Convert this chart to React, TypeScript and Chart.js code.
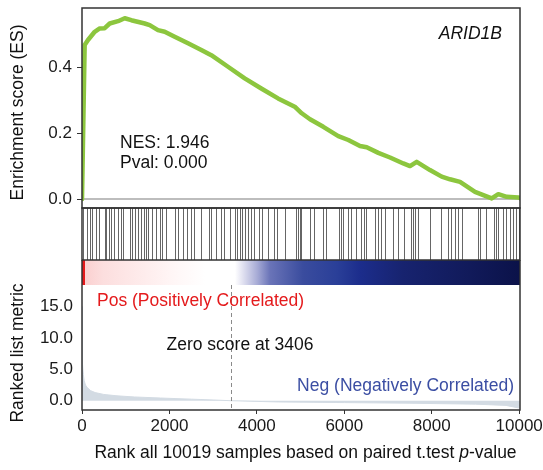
import { useEffect, useRef } from 'react';
import { Chart, registerables } from 'chart.js';

Chart.register(...registerables);

const FONT = "'Liberation Sans', Arial, sans-serif";

const TOTAL_RANKS = 10019;
const xTicks = [0, 2000, 4000, 6000, 8000, 10000];
const esTicks = [0, 0.2, 0.4];
const metricTicks = [0, 5, 10, 15];

const esRanks = [0, 61, 137, 290, 405, 519, 634, 824, 977, 1128, 1434, 1549, 1738, 1892, 2120, 2425, 2729, 2958, 3340, 3722, 4101, 4484, 4866, 5026, 5216, 5520, 5863, 6092, 6359, 6513, 6778, 7046, 7350, 7503, 7656, 7960, 8228, 8418, 8647, 8990, 9180, 9372, 9523, 9715, 9980, 10019];
const esValues = [0, 0.467, 0.482, 0.507, 0.517, 0.518, 0.532, 0.539, 0.548, 0.542, 0.532, 0.527, 0.512, 0.507, 0.492, 0.472, 0.452, 0.436, 0.401, 0.366, 0.335, 0.305, 0.28, 0.26, 0.242, 0.219, 0.191, 0.179, 0.161, 0.157, 0.14, 0.126, 0.108, 0.1, 0.113, 0.088, 0.068, 0.06, 0.052, 0.022, 0.012, 0.002, 0.015, 0.007, 0.005, 0.003];

const hitRanks = [
  23, 121, 176, 229, 327, 389, 519, 556, 617, 670, 732, 823, 885, 945, 1091, 1144, 1219, 1281, 1342, 1411, 1471, 1509, 1601, 1699, 1791, 1836, 1928, 2120, 2195, 2310, 2408,
  2486, 2561, 2729, 2896, 2942, 3070, 3185, 3247, 3378, 3492, 3552, 3607, 3666, 3721, 3797, 3858, 3934, 4041, 4117, 4254, 4391, 4467, 4636, 4901, 4940, 4979,
  5001, 5207, 5306, 5512, 5587, 5871, 5930, 5969, 6083, 6145, 6273, 6388, 6442, 6502, 6694, 6769, 6831, 6936, 7113, 7227, 7364,
  7517, 7570, 7623, 7684, 7952, 8203, 8370, 8432, 8523, 8599, 8690, 9056, 9095, 9246, 9422, 9475, 9514, 9628, 9704, 9782, 9857, 9933, 9987,
];

const metricRanks = [0, 5, 15, 30, 50, 80, 120, 200, 300, 500, 800, 1200, 1800, 2500, 3000, 3406, 4500, 6000, 7500, 9000, 9700, 10019];
const metricValues = [15, 10, 6, 4.2, 3.2, 2.5, 2.1, 1.6, 1.3, 1.0, 0.78, 0.6, 0.43, 0.25, 0.12, 0, -0.2, -0.3, -0.4, -0.55, -0.75, -1.2];

const gradientRanks = [0, 62, 68, 480, 2013, 2813, 3500, 3683, 4003, 4300, 5055, 5833, 6359, 7343, 8876, 10019];
const gradientColors = ['#e41a1c', '#e41a1c', '#fbd0d0', '#fcdede', '#fff5f5', '#ffffff', '#ffffff', '#e0e0f0', '#a8acd6', '#6a74b8', '#3a4c9e', '#2a3f98', '#1c2d8c', '#17236f', '#111a5a', '#0b1249'];

const zeroScoreRank = 3406;
const geneName = 'ARID1B';
const nesText = 'NES: 1.946';
const pvalText = 'Pval: 0.000';
const posLabel = 'Pos (Positively Correlated)';
const negLabel = 'Neg (Negatively Correlated)';
const zeroLabel = 'Zero score at ' + zeroScoreRank;
const esTitle = 'Enrichment score (ES)';
const metricTitle = 'Ranked list metric';
const xTitleParts = [
  { text: 'Rank all ' + TOTAL_RANKS + ' samples based on paired t.test ', italic: false },
  { text: 'p', italic: true },
  { text: '-value', italic: false },
];

const gseaPlugin = {
  id: 'gsea',
  beforeDatasetsDraw(chart: any) {
    const { ctx } = chart;
    const x = chart.scales.x;
    const yES = chart.scales.yES;
    const yBar = chart.scales.yBar;
    const yGrad = chart.scales.yGrad;
    ctx.save();
    // ES zero line
    const y0 = yES.getPixelForValue(0);
    ctx.strokeStyle = '#bdbdbd';
    ctx.lineWidth = 2;
    ctx.beginPath();
    ctx.moveTo(x.left, y0);
    ctx.lineTo(x.right, y0);
    ctx.stroke();
    // gradient bar
    const gx0 = x.getPixelForValue(0);
    const gx1 = x.getPixelForValue(TOTAL_RANKS);
    const grad = ctx.createLinearGradient(gx0, 0, gx1, 0);
    gradientRanks.forEach((r, i) => grad.addColorStop(Math.min(1, r / TOTAL_RANKS), gradientColors[i]));
    ctx.fillStyle = grad;
    ctx.fillRect(x.left, yGrad.top, x.right - x.left, yGrad.bottom - yGrad.top);
    // barcode
    ctx.strokeStyle = 'rgba(0,0,0,0.6)';
    ctx.lineWidth = 1;
    hitRanks.forEach((r) => {
      const px = Math.round(x.getPixelForValue(r)) + 0.5;
      ctx.beginPath();
      ctx.moveTo(px, yBar.top);
      ctx.lineTo(px, yBar.bottom);
      ctx.stroke();
    });
    ctx.restore();
  },
  afterDatasetsDraw(chart: any) {
    const { ctx } = chart;
    const x = chart.scales.x;
    const yES = chart.scales.yES;
    const yBar = chart.scales.yBar;
    const yGrad = chart.scales.yGrad;
    const yM = chart.scales.yMetric;
    ctx.save();
    // dashed zero-score line
    const zx = Math.round(x.getPixelForValue(zeroScoreRank)) + 0.5;
    ctx.strokeStyle = '#8a8a8a';
    ctx.lineWidth = 1;
    ctx.setLineDash([4, 3]);
    ctx.beginPath();
    ctx.moveTo(zx, yM.top);
    ctx.lineTo(zx, yM.bottom);
    ctx.stroke();
    ctx.setLineDash([]);
    // borders
    ctx.strokeStyle = '#333';
    ctx.lineWidth = 1.5;
    const w = x.right - x.left;
    ctx.strokeRect(x.left, yES.top, w, yES.bottom - yES.top);
    ctx.strokeRect(x.left, yBar.top, w, yBar.bottom - yBar.top);
    ctx.beginPath();
    ctx.moveTo(x.left, yGrad.top);
    ctx.lineTo(x.left, yM.bottom);
    ctx.lineTo(x.right, yM.bottom);
    ctx.lineTo(x.right, yGrad.top);
    ctx.stroke();

    // texts
    ctx.textBaseline = 'middle';
    ctx.fillStyle = '#111';
    ctx.font = `italic 17.5px ${FONT}`;
    ctx.textAlign = 'right';
    ctx.fillText(geneName, x.right - 18, yES.top + 26);
    ctx.font = `17.5px ${FONT}`;
    ctx.textAlign = 'left';
    ctx.fillText(nesText, x.left + 38, yES.top + 135);
    ctx.fillText(pvalText, x.left + 38, yES.top + 155);

    ctx.fillStyle = '#e41a1c';
    ctx.fillText(posLabel, x.left + 15, yM.top + 16);
    ctx.fillStyle = '#111';
    ctx.fillText(zeroLabel, x.left + 84.5, yM.top + 60);
    ctx.fillStyle = '#3b4ea3';
    ctx.textAlign = 'right';
    ctx.fillText(negLabel, x.right - 6, yM.top + 101);

    // y titles
    ctx.fillStyle = '#111';
    ctx.textAlign = 'center';
    ctx.save();
    ctx.translate(18.5, (yES.top + yES.bottom) / 2 + 4.5);
    ctx.rotate(-Math.PI / 2);
    ctx.fillText(esTitle, 0, 0);
    ctx.restore();
    ctx.save();
    ctx.translate(18.5, (yM.top + yM.bottom) / 2 + 5.5);
    ctx.rotate(-Math.PI / 2);
    ctx.fillText(metricTitle, 0, 0);
    ctx.restore();

    // x title with italic p
    const fonts = xTitleParts.map((p) => `${p.italic ? 'italic ' : ''}17.5px ${FONT}`);
    let total = 0;
    const widths = xTitleParts.map((p, i) => {
      ctx.font = fonts[i];
      const m = ctx.measureText(p.text).width;
      total += m;
      return m;
    });
    let cx = (x.left + x.right) / 2 + 4.5 - total / 2;
    ctx.textAlign = 'left';
    xTitleParts.forEach((p, i) => {
      ctx.font = fonts[i];
      ctx.fillText(p.text, cx, yM.bottom + 43);
      cx += widths[i];
    });
    ctx.restore();
  },
};

function fitLeft(s: any) {
  s.width = 82;
  s.paddingTop = 0;
  s.paddingBottom = 0;
}

const tickFont = { size: 17, family: FONT };

export default function App() {
  const ref = useRef<HTMLCanvasElement>(null);
  useEffect(() => {
    Chart.defaults.font.family = FONT;
    const chart = new Chart(ref.current as HTMLCanvasElement, {
      type: 'line',
      data: {
        datasets: [
          {
            data: esRanks.map((r, i) => ({ x: r, y: esValues[i] })),
            yAxisID: 'yES',
            borderColor: '#8cc63e',
            borderWidth: 4.5,
            pointRadius: 0,
            tension: 0,
            fill: false,
            borderJoinStyle: 'round',
            borderCapStyle: 'round',
          },
          {
            data: metricRanks.map((r, i) => ({ x: r, y: metricValues[i] })),
            yAxisID: 'yMetric',
            borderColor: '#d3dbe3',
            backgroundColor: '#d3dbe3',
            borderWidth: 1,
            pointRadius: 0,
            tension: 0,
            fill: 'origin',
          },
        ],
      },
      options: {
        responsive: false,
        devicePixelRatio: 1,
        animation: false,
        layout: { padding: { top: 8, right: 23, bottom: 0, left: 0 } },
        plugins: { legend: { display: false }, tooltip: { enabled: false } },
        scales: {
          x: {
            type: 'linear',
            position: 'bottom',
            min: 0,
            max: TOTAL_RANKS,
            afterBuildTicks: (s: any) => {
              s.ticks = xTicks.map((v) => ({ value: v }));
            },
            afterFit: (s: any) => {
              s.height = 60;
              s.paddingLeft = 0;
              s.paddingRight = 0;
            },
            ticks: { font: tickFont, color: '#1a1a1a', padding: 2, maxRotation: 0, autoSkip: false, callback: (v: any) => String(v) },
            grid: { drawOnChartArea: false, drawTicks: true, tickLength: 4, tickColor: '#333' },
            border: { display: false },
          },
          yMetric: {
            type: 'linear',
            position: 'left',
            stack: 'gsea',
            stackWeight: 125,
            min: -1.48,
            max: 18.45,
            afterBuildTicks: (s: any) => {
              s.ticks = metricTicks.map((v) => ({ value: v }));
            },
            afterFit: fitLeft,
            ticks: { font: tickFont, color: '#1a1a1a', padding: 9, callback: (v: any) => Number(v).toFixed(1) },
            grid: { drawOnChartArea: false, drawTicks: false },
            border: { display: false },
          },
          yGrad: {
            type: 'linear',
            position: 'left',
            stack: 'gsea',
            stackWeight: 25,
            min: 0,
            max: 1,
            afterFit: fitLeft,
            ticks: { display: false },
            grid: { display: false },
            border: { display: false },
          },
          yBar: {
            type: 'linear',
            position: 'left',
            stack: 'gsea',
            stackWeight: 52,
            min: 0,
            max: 1,
            afterFit: fitLeft,
            ticks: { display: false },
            grid: { display: false },
            border: { display: false },
          },
          yES: {
            type: 'linear',
            position: 'left',
            stack: 'gsea',
            stackWeight: 200,
            min: -0.027,
            max: 0.579,
            afterBuildTicks: (s: any) => {
              s.ticks = esTicks.map((v) => ({ value: v }));
            },
            afterFit: fitLeft,
            ticks: { font: tickFont, color: '#1a1a1a', padding: 5, callback: (v: any) => Number(v).toFixed(1) },
            grid: { drawOnChartArea: false, drawTicks: true, tickLength: 5, tickColor: '#333' },
            border: { display: false },
          },
        },
      },
      plugins: [gseaPlugin],
    } as any);
    return () => chart.destroy();
  }, []);
  return (
    <div style={{ position: 'absolute', left: 0, top: 0, width: 543, height: 470, background: '#fff' }}>
      <canvas ref={ref} width={543} height={470} style={{ display: 'block', width: 543, height: 470 }} />
    </div>
  );
}
